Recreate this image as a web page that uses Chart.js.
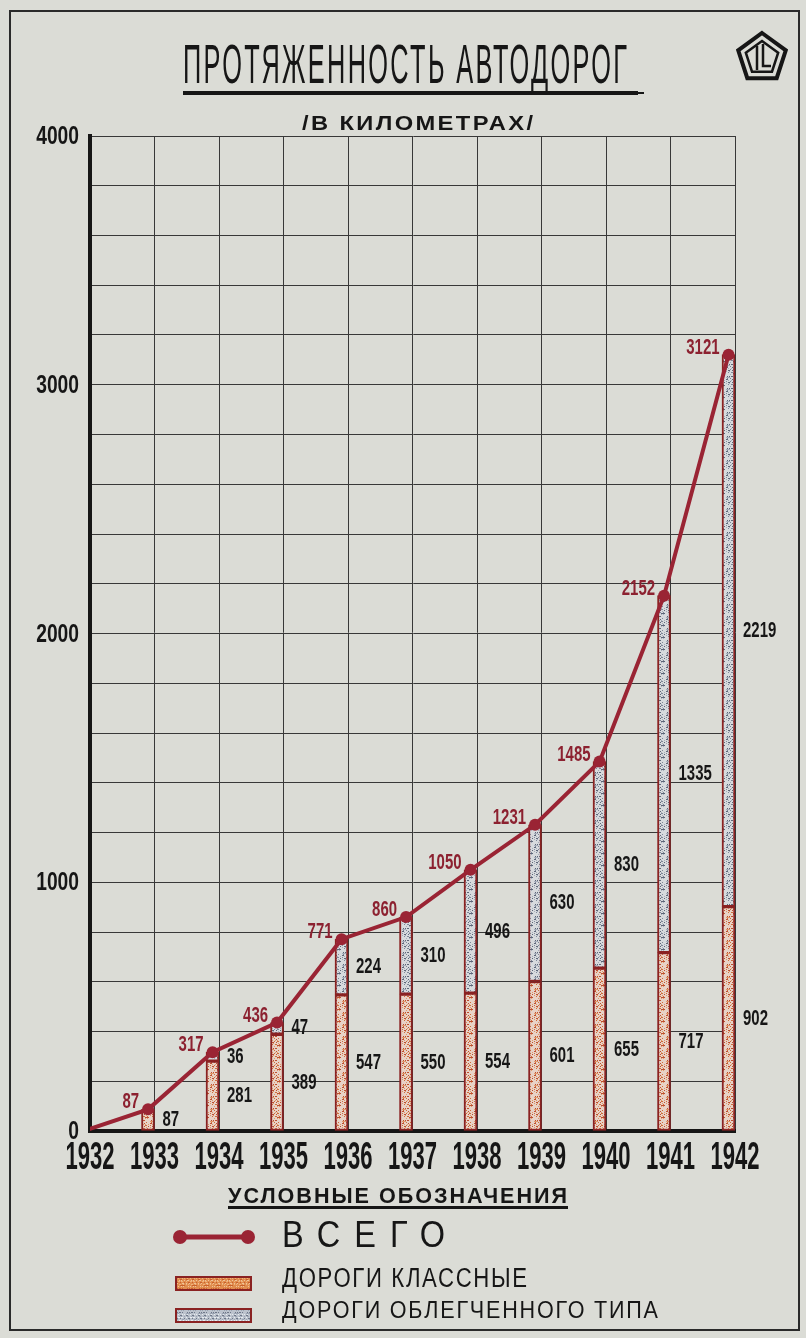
<!DOCTYPE html>
<html>
<head>
<meta charset="utf-8">
<script src="https://cdn.jsdelivr.net/npm/chart.js@4"></script>
<style>
html,body{margin:0;padding:0;background:#dbdcd6;}
#wrap{width:806px;height:1338px;position:relative;}
canvas{display:block;}
</style>
</head>
<body>
<div id="wrap"><canvas id="c" width="806" height="1338"></canvas></div>
<script>
// ---- data ----
const years = ['1932','1933','1934','1935','1936','1937','1938','1939','1940','1941','1942'];
const totals = [0, 87, 317, 436, 771, 860, 1050, 1231, 1485, 2152, 3121];
const classRoads = [null, 87, 281, 389, 547, 550, 554, 601, 655, 717, 902];
const lightRoads = [null, null, 36, 47, 224, 310, 496, 630, 830, 1335, 2219];
const yTickLabels = ['0', '1000', '2000', '3000', '4000'];

const titleText = 'ПРОТЯЖЕННОСТЬ АВТОДОРОГ';
const subtitleText = '/В КИЛОМЕТРАХ/';
const legendTitle = 'УСЛОВНЫЕ ОБОЗНАЧЕНИЯ';
const legendTotal = 'ВСЕГО';
const legendClass = 'ДОРОГИ КЛАССНЫЕ';
const legendLight = 'ДОРОГИ ОБЛЕГЧЕННОГО ТИПА';

// the light-road bar is drawn up to the total line (as in the drawing)
const lightBars = lightRoads.map((v, i) => v == null ? null : totals[i] - classRoads[i]);

// ---- styles ----
const BG = '#dbdcd6';
const INK = '#161616';
const RED = '#9a2434';
const RED_TXT = '#8c2130';
const BAR_EDGE = '#8a2222';
const FONT = "'Liberation Sans', 'DejaVu Sans', Arial, sans-serif";

const canvas = document.getElementById('c');
const mainCtx = canvas.getContext('2d');

function speckle(base, dots, density, size) {
  const c = document.createElement('canvas');
  c.width = size; c.height = size;
  const g = c.getContext('2d');
  g.fillStyle = base; g.fillRect(0, 0, size, size);
  for (let i = 0; i < size; i++) {
    for (let j = 0; j < size; j++) {
      const h = (i * 31 + j * 17 + i * j * 7) % 13;
      if (h < density) {
        g.fillStyle = dots[(i * 3 + j) % dots.length];
        g.fillRect(i, j, 1, 1);
      }
    }
  }
  return mainCtx.createPattern(c, 'repeat');
}

const classFill = speckle('#e8d2c6', ['#cf6d3c', '#bd4f30', '#e0986a'], 4, 12);
const lightFill = speckle('#d7dadd', ['#7f8899', '#5d6678', '#a6adba'], 4, 12);
const classSwatch = speckle('#e08d4e', ['#f0b27a', '#c9602c', '#eec29a'], 5, 12);
const lightSwatch = speckle('#bcc3cd', ['#e8ecf0', '#6e7788', '#9aa3b2'], 5, 12);

function txt(ctx, s, x, y, o) {
  ctx.save();
  ctx.font = (o.weight || 'normal') + ' ' + o.size + 'px ' + FONT;
  if ('letterSpacing' in ctx) ctx.letterSpacing = (o.spacing || 0) + 'px';
  const w = ctx.measureText(s).width - (o.spacing || 0);
  const sx = o.width ? o.width / w : (o.sx || 1);
  ctx.translate(x, y);
  ctx.scale(sx, 1);
  ctx.textAlign = o.align || 'left';
  ctx.textBaseline = o.baseline || 'alphabetic';
  ctx.fillStyle = o.color || INK;
  ctx.fillText(s, 0, 0);
  ctx.restore();
}

const decor = {
  id: 'decor',
  beforeDraw(chart) {
    const ctx = chart.ctx;
    ctx.save();
    ctx.fillStyle = BG;
    ctx.fillRect(0, 0, chart.width, chart.height);
    ctx.strokeStyle = '#2a2a2a';
    ctx.lineWidth = 2;
    ctx.strokeRect(10, 11, 789, 1319);
    ctx.restore();
  },
  afterDraw(chart) {
    const ctx = chart.ctx;
    const xs = chart.scales.x, ys = chart.scales.y;
    const lineMeta = chart.getDatasetMeta(0);

    // y tick labels (every 1000)
    ys.ticks.forEach(t => {
      const idx = yTickLabels.indexOf(String(t.value));
      if (idx < 0) return;
      const py = ys.getPixelForValue(t.value);
      txt(ctx, yTickLabels[idx], 79, py + 8, {size: 26, weight: 'bold', sx: 0.74, align: 'right'});
    });
    // x tick labels
    years.forEach((yr, i) => {
      const px = xs.getPixelForValue(i);
      txt(ctx, yr, px, 1169, {size: 38, weight: 'bold', sx: 0.58, align: 'center'});
    });

    // totals (red)
    totals.forEach((v, i) => {
      if (i === 0) return;
      const p = lineMeta.data[i];
      txt(ctx, String(v), p.x - 9, p.y - 7, {size: 22, weight: 'bold', sx: 0.68, align: 'right', baseline: 'middle', color: RED_TXT});
    });
    // class roads + light roads labels (black)
    classRoads.forEach((v, i) => {
      if (v == null) return;
      const gx = xs.getPixelForValue(i) + 8;
      txt(ctx, String(v), gx, ys.getPixelForValue(v / 2), {size: 22, weight: 'bold', sx: 0.68, baseline: 'middle'});
      const lv = lightRoads[i];
      if (lv != null) {
        const mid = v + lightBars[i] / 2;
        txt(ctx, String(lv), gx, ys.getPixelForValue(mid), {size: 22, weight: 'bold', sx: 0.68, baseline: 'middle'});
      }
    });

    // title
    txt(ctx, titleText, 183, 83, {size: 55, width: 444, spacing: 5});
    ctx.save();
    ctx.fillStyle = INK;
    ctx.fillRect(183, 91, 455, 4);
    ctx.fillRect(636, 92, 8, 2);
    ctx.restore();
    txt(ctx, subtitleText, 302, 130, {size: 20, weight: 'bold', width: 231, spacing: 2});

    // emblem
    ctx.save();
    ctx.strokeStyle = INK;
    const cx = 762, cy = 58;
    function pent(r, lw) {
      ctx.beginPath();
      for (let k = 0; k < 5; k++) {
        const a = -Math.PI / 2 + k * 2 * Math.PI / 5;
        const X = cx + r * Math.cos(a), Y = cy + r * Math.sin(a);
        if (k === 0) ctx.moveTo(X, Y); else ctx.lineTo(X, Y);
      }
      ctx.closePath();
      ctx.lineWidth = lw;
      ctx.stroke();
    }
    pent(25, 4);
    pent(17, 2.5);
    ctx.lineWidth = 2.5;
    ctx.beginPath();
    ctx.moveTo(757, 46); ctx.lineTo(757, 70);
    ctx.moveTo(763, 44); ctx.lineTo(763, 66); ctx.lineTo(771, 66);
    ctx.stroke();
    ctx.restore();

    // legend
    txt(ctx, legendTitle, 228, 1203, {size: 22, weight: 'bold', width: 339, spacing: 2});
    ctx.save();
    ctx.fillStyle = INK;
    ctx.fillRect(228, 1206, 340, 3);
    // line symbol
    ctx.strokeStyle = RED; ctx.lineWidth = 5;
    ctx.beginPath(); ctx.moveTo(180, 1237); ctx.lineTo(248, 1237); ctx.stroke();
    ctx.fillStyle = RED;
    [180, 248].forEach(X => { ctx.beginPath(); ctx.arc(X, 1237, 7, 0, Math.PI * 2); ctx.fill(); });
    // swatches
    ctx.lineWidth = 2; ctx.strokeStyle = BAR_EDGE;
    ctx.fillStyle = classSwatch; ctx.fillRect(176, 1277, 75, 13); ctx.strokeRect(176, 1277, 75, 13);
    ctx.fillStyle = lightSwatch; ctx.fillRect(176, 1309, 75, 13); ctx.strokeRect(176, 1309, 75, 13);
    ctx.restore();
    txt(ctx, legendTotal, 282, 1247, {size: 37, width: 163, spacing: 16});
    txt(ctx, legendClass, 282, 1287, {size: 27, width: 245, spacing: 2});
    txt(ctx, legendLight, 282, 1318, {size: 24, width: 376, spacing: 2});
  }
};

new Chart(canvas, {
  data: {
    labels: years,
    datasets: [
      {
        type: 'line',
        label: 'Всего',
        data: years.map((yr, i) => ({x: Number(yr), y: totals[i]})),
        xAxisID: 'x2',
        yAxisID: 'y',
        borderColor: RED,
        borderWidth: 4,
        pointRadius: totals.map((v, i) => i === 0 ? 0 : 6),
        pointBackgroundColor: RED,
        pointBorderWidth: 0,
        tension: 0,
        order: 0
      },
      {
        type: 'bar',
        label: 'Дороги классные',
        data: classRoads,
        stack: 'roads',
        backgroundColor: classFill,
        borderColor: BAR_EDGE,
        borderWidth: 2,
        borderSkipped: false,
        barThickness: 13,
        order: 1
      },
      {
        type: 'bar',
        label: 'Дороги облегченного типа',
        data: lightBars,
        stack: 'roads',
        backgroundColor: lightFill,
        borderColor: BAR_EDGE,
        borderWidth: 2,
        borderSkipped: false,
        barThickness: 13,
        order: 1
      },
      {
        type: 'bar',
        label: '',
        data: years.map(() => null),
        stack: 'pad',
        backgroundColor: 'rgba(0,0,0,0)',
        borderWidth: 0,
        barThickness: 13,
        order: 2
      }
    ]
  },
  options: {
    responsive: false,
    devicePixelRatio: 1,
    animation: false,
    events: [],
    layout: {padding: {left: 0, right: 71, top: 136, bottom: 0}},
    plugins: {legend: {display: false}, tooltip: {enabled: false}},
    scales: {
      x: {
        type: 'category',
        offset: false,
        grid: {offset: false, color: '#383838', lineWidth: 1, drawTicks: false},
        border: {display: true, color: INK, width: 4},
        ticks: {display: false},
        afterFit: s => { s.height = 207; }
      },
      x2: {
        type: 'linear',
        display: false,
        min: 1932.1,
        max: 1942.1
      },
      y: {
        type: 'linear',
        min: 0,
        max: 4000,
        stacked: true,
        grid: {color: '#383838', lineWidth: 1, drawTicks: false},
        border: {display: true, color: INK, width: 4},
        ticks: {display: false, stepSize: 200},
        afterFit: s => { s.width = 90; }
      }
    }
  },
  plugins: [decor]
});
</script>
</body>
</html>
